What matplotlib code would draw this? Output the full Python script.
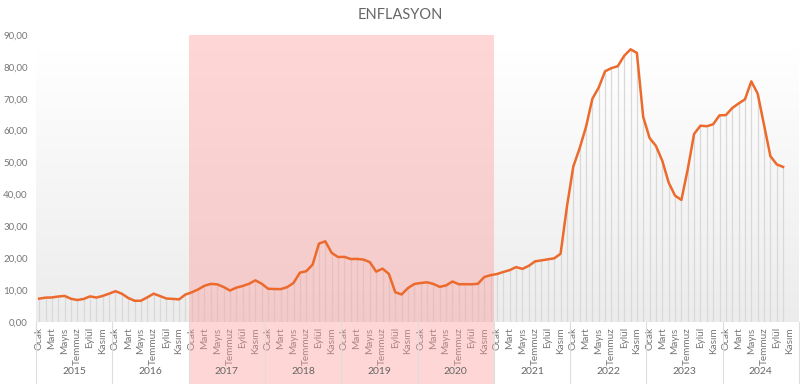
import numpy as np
import matplotlib
matplotlib.use("Agg")
import matplotlib.pyplot as plt
from matplotlib.patches import Rectangle
from matplotlib.lines import Line2D
import matplotlib.transforms as mtransforms

plt.rcParams['font.family'] = ['Lato', 'DejaVu Sans']

title = "ENFLASYON"
years = ["2015", "2016", "2017", "2018", "2019", "2020", "2021", "2022", "2023", "2024"]
month_labels = ["Ocak", "Mart", "Mayıs", "Temmuz", "Eylül", "Kasım"]
yticks = [0, 10, 20, 30, 40, 50, 60, 70, 80, 90]

infl_2015 = [7.24, 7.55, 7.61, 7.91, 8.09, 7.20, 6.81, 7.14, 7.95, 7.58, 8.10, 8.81]
infl_2016 = [9.58, 8.78, 7.46, 6.57, 6.58, 7.64, 8.79, 8.05, 7.28, 7.16, 7.00, 8.53]
infl_2017 = [9.22, 10.13, 11.29, 11.87, 11.72, 10.90, 9.79, 10.68, 11.20, 11.90, 12.98, 11.92]
infl_2018 = [10.35, 10.26, 10.23, 10.85, 12.15, 15.39, 15.85, 17.90, 24.52, 25.24, 21.62, 20.30]
infl_2019 = [20.35, 19.67, 19.71, 19.50, 18.71, 15.72, 16.65, 15.01, 9.26, 8.55, 10.56, 11.84]
infl_2020 = [12.15, 12.37, 11.86, 10.94, 11.39, 12.62, 11.76, 11.77, 11.75, 11.89, 14.03, 14.60]
infl_2021 = [14.97, 15.61, 16.19, 17.14, 16.59, 17.53, 18.95, 19.25, 19.58, 19.89, 21.31, 36.08]
infl_2022 = [48.69, 54.44, 61.14, 69.97, 73.50, 78.62, 79.60, 80.21, 83.45, 85.51, 84.39, 64.27]
infl_2023 = [57.68, 55.18, 50.51, 43.68, 39.59, 38.21, 47.83, 58.94, 61.53, 61.36, 61.98, 64.77]
infl_2024 = [64.86, 67.07, 68.50, 69.80, 75.45, 71.60, 61.78, 51.97, 49.38, 48.58]

shade_start_year = "2017"
shade_end_year = "2020"

values = np.array(infl_2015 + infl_2016 + infl_2017 + infl_2018 + infl_2019 +
                  infl_2020 + infl_2021 + infl_2022 + infl_2023 + infl_2024)
n_months = 12 * len(years)
x = np.arange(len(values))

W, H = 800, 384
fig = plt.figure(figsize=(W / 100, H / 100), dpi=100)
left_px, right_px, top_px, bottom_px = 36, 799, 35, 321.7
ax = fig.add_axes([left_px / W, 1 - bottom_px / H, (right_px - left_px) / W, (bottom_px - top_px) / H])
ax.set_xlim(-0.5, n_months - 0.5)
ax.set_ylim(0, 90)

# gradient background
vmax = values.max()
grad = np.linspace(0, 1, 256).reshape(-1, 1)
top_c = np.array([1.0, 1.0, 1.0])
bot_c = np.array([236, 236, 236]) / 255
img = top_c * (1 - grad[..., None]) + bot_c * grad[..., None]
img = img.reshape(256, 1, 3)
ax.imshow(img, extent=(-0.5, n_months - 0.5, 0, vmax), aspect='auto', origin='upper', zorder=0)

# drop lines
ax.vlines(x, 0, values, colors='#d9d9d9', linewidth=0.9, zorder=1)

# pink shaded band (extends into label area)
trans = mtransforms.blended_transform_factory(ax.transData, ax.transAxes)
s = years.index(shade_start_year) * 12 - 0.5
e = (years.index(shade_end_year) + 1) * 12 - 0.5
ax_bottom_frac = -(H - bottom_px) / (bottom_px - top_px)
ax.add_patch(Rectangle((s, ax_bottom_frac), e - s, 1 - ax_bottom_frac, transform=trans,
                       facecolor='#ff9999', alpha=0.4, edgecolor='none', clip_on=False, zorder=2))

# line
ax.plot(x, values, color='#ec6a2c', linewidth=1.8, zorder=3, solid_joinstyle='round')

# axes styling
for sp in ax.spines.values():
    sp.set_visible(False)
ax.axhline(0, color='#dddddd', linewidth=0.8, zorder=2)
ax.set_yticks(yticks)
ax.set_yticklabels([f"{v:.2f}".replace('.', ',') for v in yticks], fontsize=7, color='#777777')
ax.tick_params(axis='y', length=0, pad=6)

xt = [i * 12 + m for i in range(len(years)) for m in range(0, 12, 2)]
ax.set_xticks(xt)
ax.set_xticklabels(month_labels * len(years), rotation=90, fontsize=7.2, color='#777777', va='top')
ax.tick_params(axis='x', length=0, pad=4)

# year separators and labels
for i in range(len(years) + 1):
    xb = i * 12 - 0.5
    ax.add_line(Line2D([xb, xb], [0, ax_bottom_frac], transform=trans, color='#dddddd',
                       linewidth=0.8, clip_on=False, zorder=2))
for i, yr in enumerate(years):
    ax.text(i * 12 + 5.5, -(372 - bottom_px) / (bottom_px - top_px), yr, transform=trans,
            ha='center', va='center', fontsize=7.5, color='#666666')

fig.text(0.5, 1 - 15 / H, title, ha='center', va='center', fontsize=10.5, color='#666666')

fig.savefig("out.png", dpi=100)
